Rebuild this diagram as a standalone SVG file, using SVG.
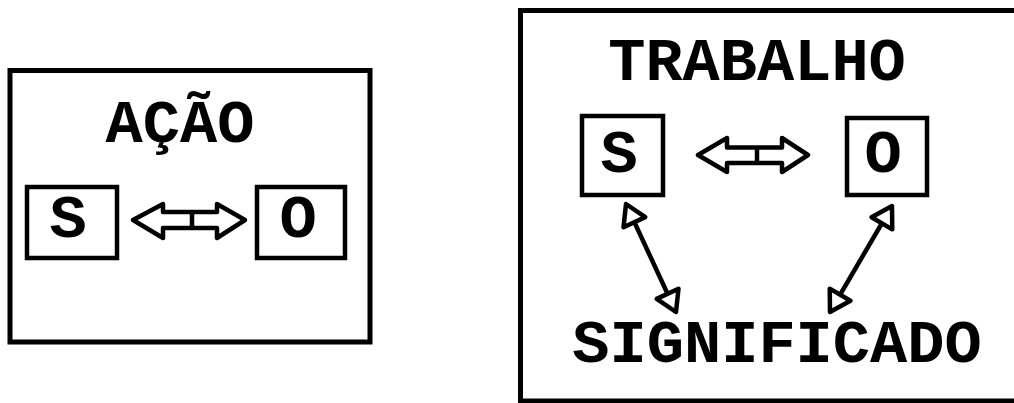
<svg xmlns="http://www.w3.org/2000/svg" width="1014" height="403" viewBox="0 0 1014 403">
<style>
.frame{fill:none;stroke:#000;stroke-width:5}
.box{fill:#fff;stroke:#000;stroke-width:4.5}
.t{font-family:"Liberation Mono","Courier New",monospace;font-weight:bold;font-size:62px;fill:#000;text-anchor:middle}
.blk{fill:#fff;stroke:#000;stroke-width:4.5;stroke-linejoin:round}
.div{stroke:#000;stroke-width:4.5}
.ln{stroke:#000;stroke-width:4.5;fill:none}
</style>
<defs>
<marker id="tri" viewBox="0 0 26 30" refX="23" refY="15" markerWidth="26" markerHeight="30" markerUnits="userSpaceOnUse" orient="auto-start-reverse">
<path d="M3,3 L23,15 L3,27 Z" fill="#fff" stroke="#000" stroke-width="4.5" stroke-linejoin="round"/>
</marker>
</defs>
<rect width="1014" height="403" fill="#fff"/>
<g id="acao">
<rect class="frame" x="10" y="70.5" width="360" height="271.5"/>
<text class="t" x="180" y="142">AÇÃO</text>
</g>
<g id="acao-s">
<rect class="box" x="27" y="187" width="90" height="71"/>
<text class="t" x="68" y="237">S</text>
</g>
<g id="acao-o">
<rect class="box" x="257" y="187" width="88" height="71"/>
<text class="t" x="298" y="237">O</text>
</g>
<g id="trabalho">
<rect class="frame" x="520.5" y="10.5" width="510" height="390.5"/>
<text class="t" x="757" y="80">TRABALHO</text>
</g>
<g id="trabalho-s">
<rect class="box" x="582" y="116" width="81" height="79"/>
<text class="t" x="619" y="172">S</text>
</g>
<g id="trabalho-o">
<rect class="box" x="847" y="118" width="80" height="77"/>
<text class="t" x="883" y="172">O</text>
</g>
<g id="significado">
<text class="t" x="777" y="362">SIGNIFICADO</text>
</g>
<g id="connectors">
<polygon class="blk" points="133,220 163,204 163,212 217,212 217,204 245,220 217,238 217,228 163,228 163,238"/>
<line class="div" x1="192" y1="212" x2="192" y2="228"/>
<polygon class="blk" points="698,155 727,138 727,147.5 782,147.5 782,138 808,155 782,172 782,163 727,163 727,172"/>
<line class="div" x1="757" y1="147.5" x2="757" y2="163"/>
<line class="ln" x1="626" y1="204" x2="676" y2="312" marker-start="url(#tri)" marker-end="url(#tri)"/>
<line class="ln" x1="892" y1="206" x2="830" y2="312" marker-start="url(#tri)" marker-end="url(#tri)"/>
</g>
</svg>
